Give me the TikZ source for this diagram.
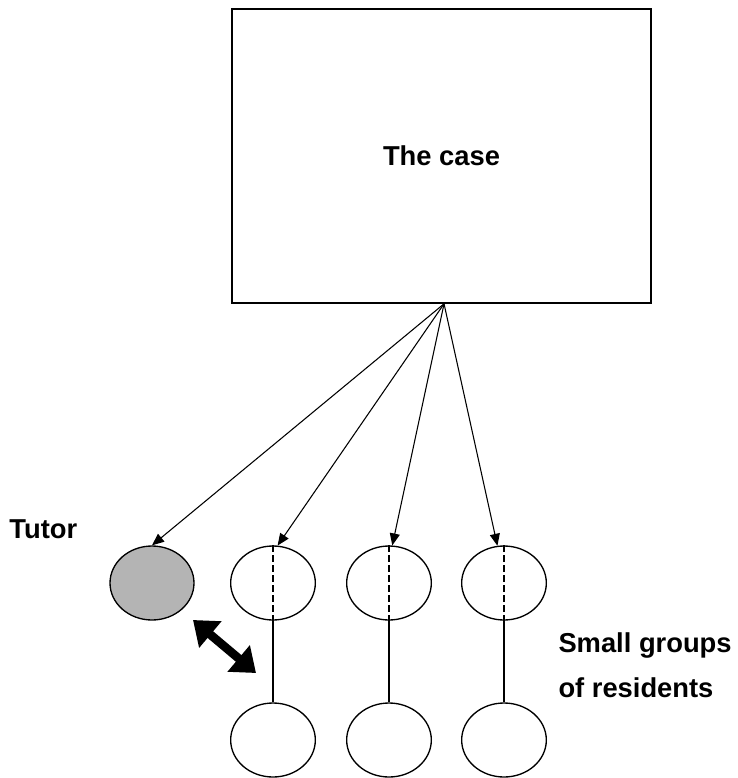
\documentclass[tikz,border=0pt]{standalone}
\usepackage{fontspec}
\setmainfont{Liberation Sans}
\usetikzlibrary{arrows.meta,shapes.geometric}

\tikzset{every picture/.style={line width=0.75pt}}
\tikzset{
  label text/.style={inner sep=0pt, font=\fontsize{20.5}{24}\selectfont\bfseries},
  group oval/.style={draw, ellipse, line width=1pt, inner sep=0pt, minimum width=63.5pt, minimum height=55.5pt},
  case arrow/.style={-{Triangle[length=9pt,width=7.5pt]}, line width=0.8pt},
  half line/.style={line width=1pt, dash pattern=on 5pt off 2.5pt},
  swap arrow/.style={{Triangle[length=17pt,width=25pt]}-{Triangle[length=17pt,width=25pt]}, line width=6.5pt}
}

\begin{document}
\begin{tikzpicture}[x=0.75pt,y=0.75pt,yscale=-1,xscale=1]
    \useasboundingbox (0,0) rectangle (738,778);

    %Rect: the case
    \node [draw, line width=1.2pt, minimum width=314.25pt, minimum height=220.5pt, label text] (case) at (441.5,156) {The case};
    \coordinate [xshift=1.9pt] (apex) at (case.south);

    %Shape: Ellipse (tutor)
    \node [group oval, fill={rgb,255:red,180;green,180;blue,180}, minimum width=63pt] (tutor) at (152,583) {};
    %Shape: Ellipse (groups, top and bottom)
    \node [group oval] (g1) at (273,583) {};
    \node [group oval] (g2) at (389,583) {};
    \node [group oval] (g3) at (504,583) {};
    \node [group oval] (b1) at (273,740) {};
    \node [group oval] (b2) at (389,740) {};
    \node [group oval] (b3) at (504,740) {};

    %Dashed and straight lines
    \foreach \g/\b in {g1/b1,g2/b2,g3/b3}{
        \draw [half line] (\g.north) -- (\g.south);
        \draw [line width=0.9pt] (\g.south) -- (\b.north);
    }

    %Straight Lines from the case
    \draw [case arrow] (apex) -- (tutor.north);
    \draw [case arrow] (apex) -- (g1.83);
    \draw [case arrow] (apex) -- (g2.85);
    \draw [case arrow] (apex) -- (g3.100);

    %Double arrow: tutor and group
    \coordinate (swapA) at (193,620);
    \coordinate (swapB) at (256,673);
    \draw [swap arrow] (swapA) -- (swapB);

    % Text Node
    \node [anchor=base west, label text] (tutortext) at (9,538) {Tutor};
    % Text Node
    \node [anchor=base west, label text] (grouptext) at (558,652) {Small groups};
    % Text Node
    \node [anchor=base west, label text] (residtext) at (558,697) {of residents};

\end{tikzpicture}
\end{document}
